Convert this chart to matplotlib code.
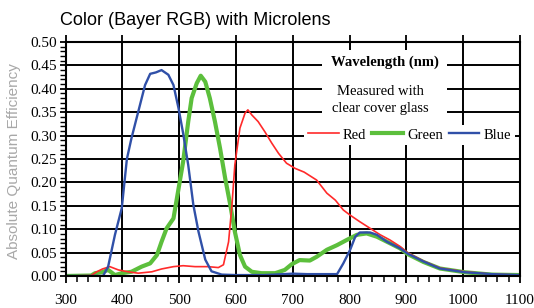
import matplotlib
matplotlib.use('Agg')
import matplotlib.pyplot as plt
from matplotlib.patches import Rectangle
from matplotlib.ticker import MultipleLocator

# wavelength (nm) / absolute QE
red_nm = [300, 345, 355, 365, 378, 393, 410, 428, 452, 469, 490, 507, 528, 551, 569, 578,
          587, 593, 598, 607, 616, 621, 628, 639, 651, 663, 675, 689, 704, 720, 742, 760,
          775, 789, 801, 818, 836, 854, 871, 889, 902, 930, 959, 1003, 1050, 1100]
red_qe = [0, 0.001, 0.009, 0.015, 0.02, 0.013, 0.009, 0.006, 0.009, 0.015, 0.02, 0.022,
          0.02, 0.02, 0.018, 0.024, 0.073, 0.152, 0.237, 0.316, 0.348, 0.355, 0.344, 0.33,
          0.308, 0.284, 0.262, 0.241, 0.23, 0.222, 0.205, 0.177, 0.162, 0.141, 0.130,
          0.116, 0.102, 0.088, 0.077, 0.063, 0.05, 0.032, 0.017, 0.009, 0.004, 0.002]

green_nm = [300, 345, 352, 364, 375, 387, 399, 416, 434, 449, 461, 469, 478, 490, 499, 507,
            516, 522, 531, 538, 546, 554, 563, 572, 581, 590, 598, 607, 616, 628, 645, 669,
            686, 698, 712, 730, 742, 760, 778, 795, 813, 830, 848, 871, 889, 902, 930, 959,
            1003, 1050, 1100]
green_qe = [0, 0.001, 0.006, 0.008, 0.013, 0.002, 0.006, 0.009, 0.02, 0.027, 0.045, 0.073,
            0.102, 0.123, 0.187, 0.244, 0.33, 0.38, 0.412, 0.428, 0.415, 0.38, 0.33, 0.273,
            0.209, 0.152, 0.095, 0.045, 0.02, 0.009, 0.006, 0.006, 0.013, 0.025, 0.034,
            0.033, 0.041, 0.056, 0.066, 0.077, 0.088, 0.091, 0.084, 0.07, 0.059, 0.047,
            0.03, 0.016, 0.008, 0.003, 0.002]

blue_nm = [300, 366, 375, 387, 399, 408, 416, 428, 440, 449, 459, 469, 481, 490, 499, 507,
           516, 525, 534, 540, 546, 557, 575, 600, 650, 700, 725, 778, 789, 801, 810, 818,
           836, 848, 866, 889, 902, 930, 959, 1003, 1050, 1100]
blue_qe = [0, 0, 0.02, 0.088, 0.145, 0.25, 0.294, 0.351, 0.408, 0.432, 0.435, 0.44, 0.43,
           0.408, 0.358, 0.305, 0.237, 0.152, 0.095, 0.065, 0.035, 0.01, 0.003, 0.002,
           0.002, 0.005, 0.004, 0.004, 0.027, 0.056, 0.084, 0.093, 0.093, 0.088, 0.073,
           0.059, 0.048, 0.031, 0.016, 0.008, 0.004, 0.002]

serif = 'Liberation Serif'
sans = 'Liberation Sans'

fig = plt.figure(figsize=(5.34, 3.08), dpi=100)
ax = fig.add_axes([0.1227, 0.1039, 0.8511, 0.7597])

ax.plot(green_nm, green_qe, color='#5cbf3c', lw=3.0, label='Green', zorder=3)
ax.plot(red_nm, red_qe, color='#ff2a2a', lw=1.2, label='Red', zorder=3.1)
ax.plot(blue_nm, blue_qe, color='#3050a8', lw=1.7, label='Blue', zorder=3.2)

ax.set_xlim(300, 1100)
ax.set_ylim(0, 0.5)
ax.xaxis.set_major_locator(MultipleLocator(100))
ax.xaxis.set_minor_locator(MultipleLocator(20))
ax.yaxis.set_major_locator(MultipleLocator(0.05))
ax.yaxis.set_minor_locator(MultipleLocator(0.01))
ax.yaxis.set_major_formatter(lambda v, p: f'{v:.2f}')

ax.set_axisbelow(True)
ax.grid(True, which='major', color='black', lw=1.4)
for s in ax.spines.values():
    s.set_linewidth(1.5)
    s.set_zorder(4)

ax.tick_params(axis='x', which='major', direction='out', length=5, width=1.3,
               top=True, labeltop=False, pad=8)
ax.tick_params(axis='x', which='minor', direction='out', length=4, width=1.1)
ax.tick_params(axis='y', which='major', direction='out', length=4, width=1.3, pad=2)
ax.tick_params(axis='y', which='minor', direction='out', length=4, width=1.0)
for lab in ax.get_xticklabels() + ax.get_yticklabels():
    lab.set_fontfamily(serif)
    lab.set_fontsize(11)

# white block behind the annotation area
ax.add_patch(Rectangle((0.564, 0.645), 0.275, 0.32, transform=ax.transAxes,
                       facecolor='white', edgecolor='none', zorder=1))

ax.text(0.703, 0.915, 'Wavelength (nm)', transform=ax.transAxes, ha='center', va='center',
        fontfamily=serif, fontweight='bold', fontsize=10.5, zorder=5)
ax.text(0.692, 0.752, 'Measured with\nclear cover glass', transform=ax.transAxes,
        ha='center', va='center', fontfamily=serif, fontsize=10.5, linespacing=1.35, zorder=5)

handles, labels = ax.get_legend_handles_labels()
order = [1, 0, 2]
leg = ax.legend([handles[i] for i in order], [labels[i] for i in order], ncol=3,
                loc='center', bbox_to_anchor=(0.757, 0.603), frameon=True, fancybox=False,
                framealpha=1, edgecolor='none', handlelength=2.1, handletextpad=0.3,
                columnspacing=0.4, borderpad=0.25, prop={'family': serif, 'size': 10.5})
leg.set_zorder(6)

fig.text(0.112, 0.935, 'Color (Bayer RGB) with Microlens', fontfamily=sans, fontsize=13,
         ha='left', va='center')
fig.text(0.026, 0.477, 'Absolute Quantum Efficiency', fontfamily=sans, fontsize=11,
         color='#a8a8a8', rotation=90, ha='center', va='center')

fig.savefig('out.png', dpi=100)
